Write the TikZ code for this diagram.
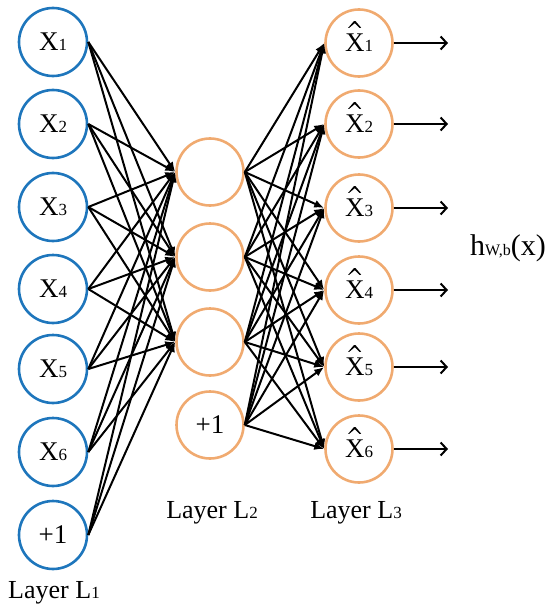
\documentclass[tikz,border=0pt]{standalone}
\usepackage{fontspec}
\setmainfont{Liberation Serif}
\usetikzlibrary{arrows.meta}
\definecolor{nnblue}{RGB}{30,118,188}
\definecolor{nnorange}{RGB}{240,170,112}
\newcommand{\lowsub}[1]{{\fontsize{17}{17}\selectfont #1}}
\begin{document}
\begin{tikzpicture}[x=1pt,y=-1pt,
  bluenode/.style={circle,draw=nnblue,line width=2.6pt,minimum size=68pt,inner sep=0pt,font=\fontsize{27}{27}\selectfont},
  orangenode/.style={circle,draw=nnorange,line width=2.6pt,minimum size=67pt,inner sep=0pt,font=\fontsize{27}{27}\selectfont},
  edge/.style={line width=2pt,-{Latex[length=10pt,width=8pt]}},
  outarrow/.style={line width=2pt,-{Straight Barb[length=6pt,width=13pt]}},
  hatmark/.style={fill=black},
  lbl/.style={font=\fontsize{26}{26}\selectfont,inner sep=0pt}]
\useasboundingbox (0,0) rectangle (550,615);
% layer 1
\node[bluenode] (a1) at (53,42) {X\lowsub{1}};
\node[bluenode] (a2) at (53,124) {X\lowsub{2}};
\node[bluenode] (a3) at (53,207) {X\lowsub{3}};
\node[bluenode] (a4) at (53,289) {X\lowsub{4}};
\node[bluenode] (a5) at (53,369) {X\lowsub{5}};
\node[bluenode] (a6) at (53,452) {X\lowsub{6}};
\node[bluenode] (a7) at (53,535) {+1};
% layer 2
\node[orangenode] (h1) at (210,172) {};
\node[orangenode] (h2) at (210,257) {};
\node[orangenode] (h3) at (210,342) {};
\node[orangenode] (h4) at (210,425) {+1};
% layer 3
\node[orangenode] (o1) at (359,43) {X\lowsub{1}};
\node[orangenode] (o2) at (359,124) {X\lowsub{2}};
\node[orangenode] (o3) at (359,208) {X\lowsub{3}};
\node[orangenode] (o4) at (359,290) {X\lowsub{4}};
\node[orangenode] (o5) at (359,367) {X\lowsub{5}};
\node[orangenode] (o6) at (359,449) {X\lowsub{6}};
% hats over the output X
\foreach \j in {1,...,6}{
  \begin{scope}[shift={(o\j.center)}]
    \fill[hatmark] (-10.8,-15.2) -- (-5.1,-21.9) -- (-3.5,-21.9) -- (2.2,-15.2)
      -- (0.5,-15.2) -- (-4.3,-19.8) -- (-9.7,-15.2) -- cycle;
  \end{scope}
}
% edges L1 -> L2
\foreach \i in {1,...,7}{
  \foreach \j in {1,2,3}{
    \draw[edge] (a\i.east) -- (h\j.west);
  }
}
% edges L2 -> L3
\foreach \i in {1,...,4}{
  \foreach \j in {1,...,6}{
    \draw[edge] (h\i.east) -- (o\j.west);
  }
}
% outputs
\foreach \j/\y in {1/43,2/124,3/208,4/290,5/367,6/449}{
  \coordinate (e\j) at (448,\y);
  \draw[outarrow] (o\j.east) -- (e\j);
}
\node[lbl,font=\fontsize{30}{30}\selectfont] (hw) at (508,248) {h{\fontsize{16}{16}\selectfont W,b}(x)};
\node[lbl] (l1) at (54,593) {Layer L\lowsub{1}};
\node[lbl] (l2) at (212,513) {Layer L\lowsub{2}};
\node[lbl] (l3) at (356,513) {Layer L\lowsub{3}};
\end{tikzpicture}
\end{document}
